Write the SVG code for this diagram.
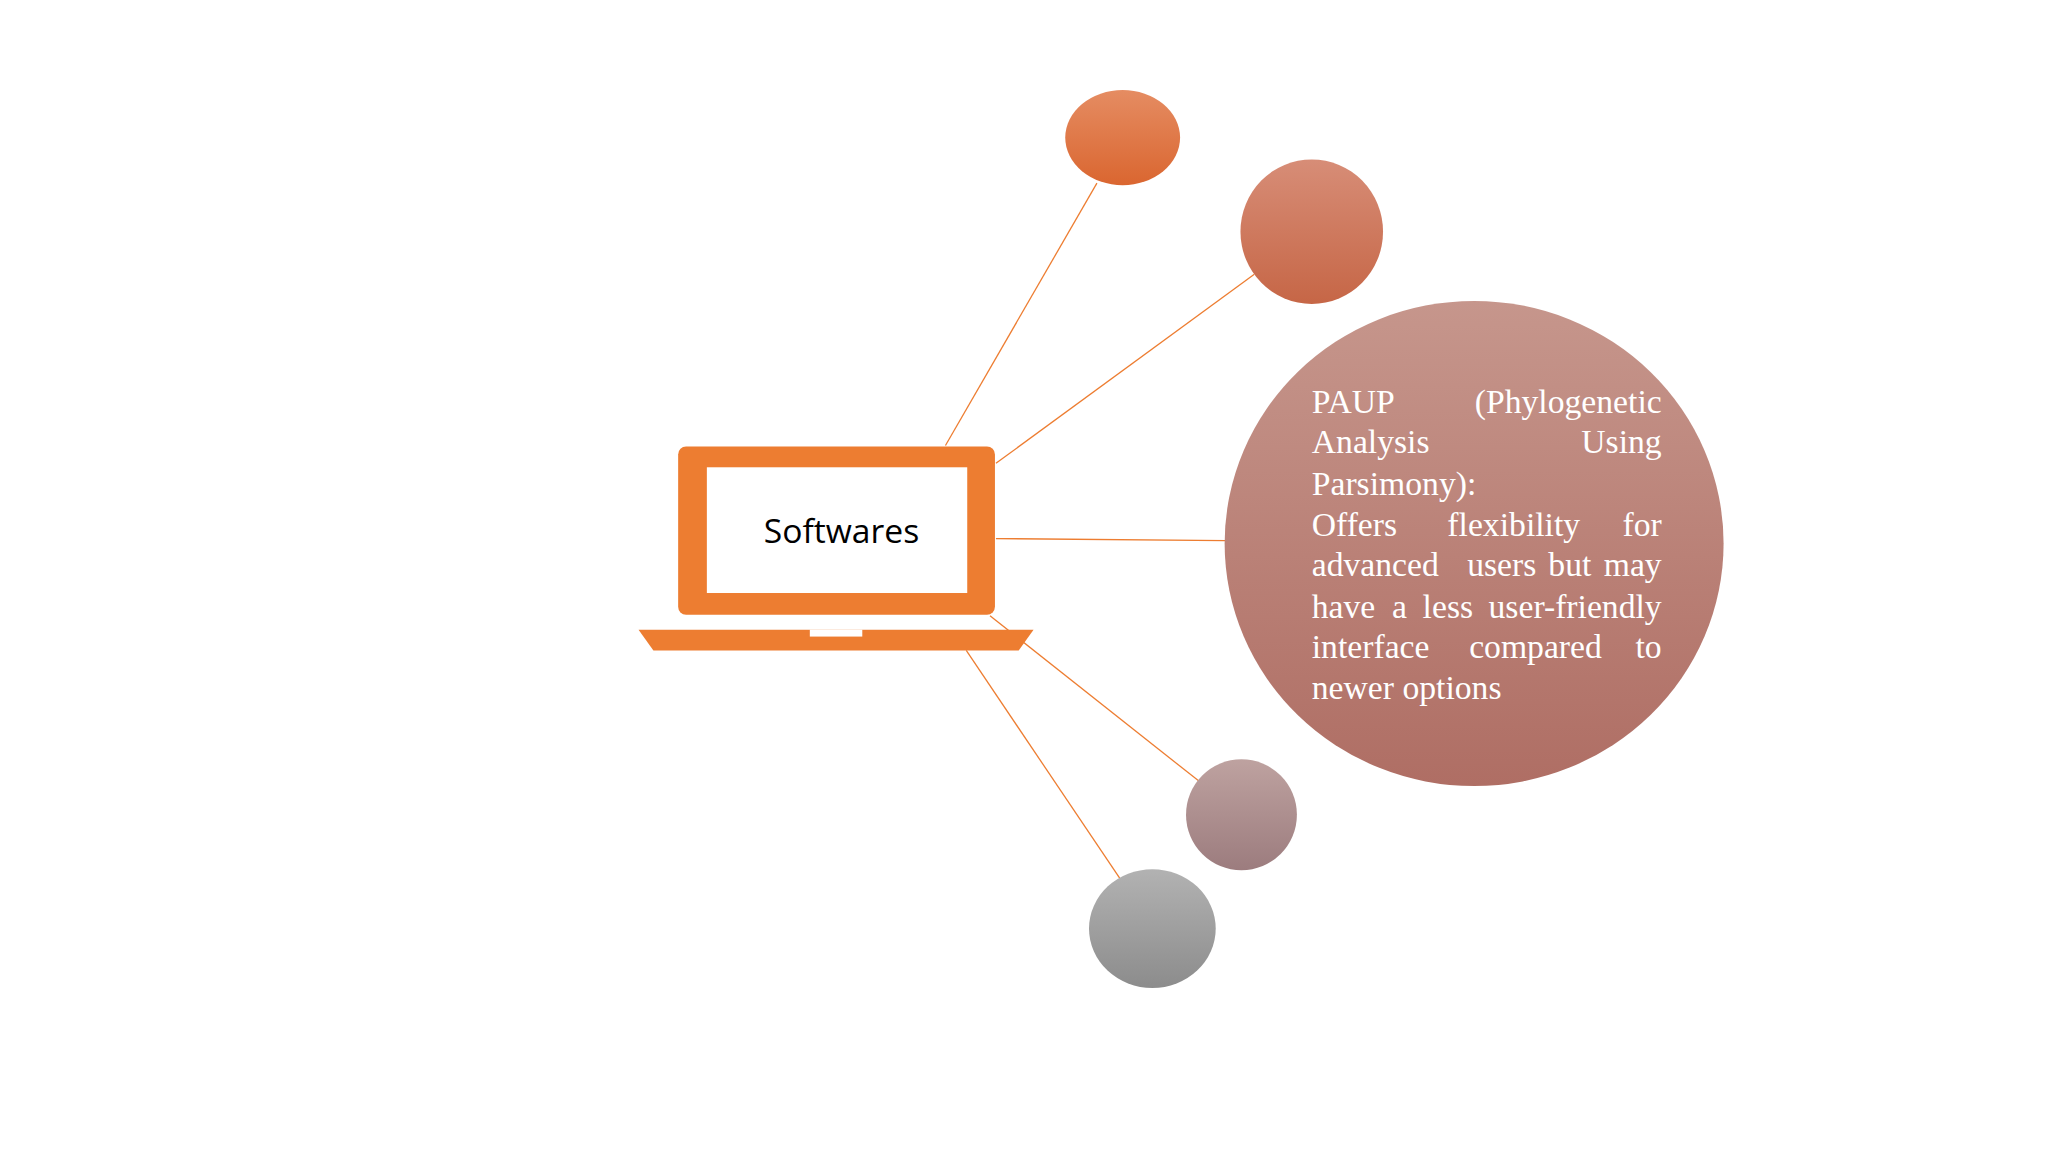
<svg xmlns="http://www.w3.org/2000/svg" width="2048" height="1152" viewBox="0 0 2048 1152">
<style>
.c{stroke:#ed7d31;stroke-width:1.3;fill:none}
.t{font-family:"Liberation Serif",serif;font-size:34px;fill:#fff}
.e{text-anchor:end}
</style>
<defs>
<linearGradient id="g1" x1="0" y1="0" x2="0" y2="1"><stop offset="0" stop-color="#e58c62"/><stop offset="1" stop-color="#da6630"/></linearGradient>
<linearGradient id="g2" x1="0" y1="0" x2="0" y2="1"><stop offset="0" stop-color="#d78d77"/><stop offset="1" stop-color="#c66646"/></linearGradient>
<linearGradient id="g3" x1="0" y1="0" x2="0" y2="1"><stop offset="0" stop-color="#c6968c"/><stop offset="1" stop-color="#af6e64"/></linearGradient>
<linearGradient id="g4" x1="0" y1="0" x2="0" y2="1"><stop offset="0" stop-color="#bea2a0"/><stop offset="1" stop-color="#9c7c7e"/></linearGradient>
<linearGradient id="g5" x1="0" y1="0" x2="0" y2="1"><stop offset="0" stop-color="#b2b2b2"/><stop offset="1" stop-color="#8c8c8c"/></linearGradient>
</defs>
<rect width="2048" height="1152" fill="#fff"/>
<g transform="scale(0.99)">
<g id="connectors">
<line class="c" x1="955" y1="450" x2="1108" y2="185"/>
<line class="c" x1="1006" y1="468" x2="1267" y2="277"/>
<line class="c" x1="1006" y1="544" x2="1238" y2="546"/>
<line class="c" x1="1000" y1="622" x2="1211" y2="789"/>
<line class="c" x1="976" y1="657" x2="1131" y2="887"/>
</g>
<g id="n1"><ellipse cx="1134" cy="139" rx="58" ry="48" fill="url(#g1)"/></g>
<g id="n2"><ellipse cx="1325" cy="234" rx="72" ry="73" fill="url(#g2)"/></g>
<g id="n3"><ellipse cx="1489" cy="549" rx="252" ry="245" fill="url(#g3)"/>
<text class="t"><tspan x="1325" y="417">PAUP</tspan><tspan class="e" x="1687" y="417">(Phylogenetic</tspan>
<tspan x="1325" y="458">Analysis</tspan><tspan class="e" x="1687" y="458">Using</tspan>
<tspan x="1325" y="500">Parsimony):</tspan>
<tspan x="1325" y="541">Offers</tspan><tspan x="1462" y="541">flexibility</tspan><tspan class="e" x="1687" y="541">for</tspan>
<tspan x="1325" y="582">advanced</tspan><tspan x="1482" y="582">users</tspan><tspan x="1564" y="582">but</tspan><tspan class="e" x="1687" y="582">may</tspan>
<tspan x="1325" y="624">have</tspan><tspan x="1406" y="624">a</tspan><tspan x="1437" y="624">less</tspan><tspan class="e" x="1687" y="624">user-friendly</tspan>
<tspan x="1325" y="665">interface</tspan><tspan x="1484" y="665">compared</tspan><tspan class="e" x="1687" y="665">to</tspan>
<tspan x="1325" y="706">newer options</tspan></text></g>
<g id="n4"><ellipse cx="1254" cy="823" rx="56" ry="56" fill="url(#g4)"/></g>
<g id="n5"><ellipse cx="1164" cy="938" rx="64" ry="60" fill="url(#g5)"/></g>
<g id="laptop">
<rect x="685" y="451" width="320" height="170" rx="8" fill="#ed7d31"/>
<rect x="714" y="472" width="263" height="127" fill="#fff"/>
<polygon points="645,636 1044,636 1029,657 660,657" fill="#ed7d31"/>
<rect x="818" y="636" width="53" height="7" fill="#fff"/>
<text x="850" y="549" text-anchor="middle" font-family="Open Sans,sans-serif" font-size="34" fill="#000">Softwares</text>
</g>
</g>
</svg>
